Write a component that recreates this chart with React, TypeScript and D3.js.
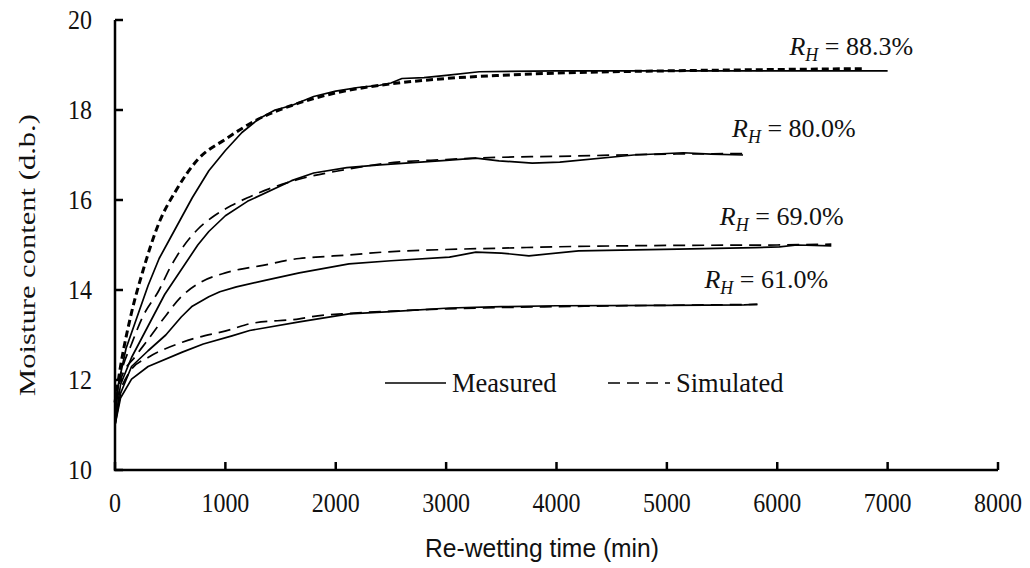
import React from 'react';
import * as d3 from 'd3';

// re-wetting curves, values (time in min, moisture d.b.)
const meas883T = [0, 30, 100, 200, 300, 400, 500, 600, 700, 850, 1000, 1150, 1300, 1450, 1600, 1800, 2000, 2200, 2400, 2500, 2600, 2800, 3000, 3300, 4000, 5000, 6000, 7000];
const meas883M = [11.0, 11.9, 12.7, 13.4, 14.1, 14.7, 15.15, 15.6, 16.05, 16.65, 17.1, 17.5, 17.8, 18.0, 18.1, 18.3, 18.42, 18.5, 18.55, 18.6, 18.7, 18.72, 18.77, 18.85, 18.87, 18.87, 18.87, 18.87];
const sim883T = [0, 50, 150, 250, 400, 550, 750, 1000, 1300, 1600, 2000, 2500, 3000, 3500, 4000, 5000, 6000, 6800];
const sim883M = [11.5, 12.3, 13.5, 14.4, 15.5, 16.2, 16.9, 17.35, 17.8, 18.1, 18.38, 18.58, 18.7, 18.77, 18.82, 18.87, 18.9, 18.92];

const meas800T = [0, 50, 150, 300, 450, 600, 750, 850, 1000, 1200, 1600, 1800, 2100, 2400, 3000, 3270, 3480, 3780, 4030, 4700, 5150, 5400, 5690];
const meas800M = [11.0, 11.9, 12.5, 13.2, 13.9, 14.45, 15.0, 15.3, 15.65, 15.97, 16.43, 16.6, 16.72, 16.78, 16.88, 16.93, 16.87, 16.82, 16.84, 17.0, 17.05, 17.02, 17.0];
const sim800T = [0, 60, 150, 250, 400, 500, 600, 750, 900, 1050, 1200, 1650, 2100, 2400, 3000, 3500, 4000, 5000, 5700];
const sim800M = [11.5, 12.2, 12.8, 13.4, 14.0, 14.5, 14.9, 15.35, 15.65, 15.87, 16.05, 16.45, 16.68, 16.8, 16.9, 16.95, 16.97, 17.02, 17.03];

const meas690T = [0, 50, 150, 300, 460, 600, 700, 850, 950, 1100, 1370, 1670, 2120, 2500, 3030, 3270, 3500, 3750, 4200, 5100, 5800, 6020, 6180, 6490];
const meas690M = [11.0, 11.7, 12.3, 12.65, 13.0, 13.4, 13.64, 13.85, 13.96, 14.07, 14.22, 14.38, 14.58, 14.65, 14.73, 14.84, 14.82, 14.76, 14.87, 14.91, 14.94, 14.96, 15.0, 14.98];
const sim690T = [0, 50, 190, 300, 460, 600, 760, 1000, 1130, 1300, 1670, 1820, 2120, 2420, 3000, 3500, 4000, 5000, 6000, 6490];
const sim690M = [11.5, 12.0, 12.54, 12.9, 13.43, 13.85, 14.15, 14.38, 14.46, 14.53, 14.7, 14.73, 14.78, 14.84, 14.9, 14.93, 14.96, 14.99, 15.0, 15.02];

const meas610T = [0, 50, 150, 300, 610, 800, 1060, 1220, 1670, 2120, 2500, 3030, 3500, 4000, 5000, 5700, 5820];
const meas610M = [11.0, 11.6, 12.02, 12.3, 12.62, 12.8, 12.98, 13.1, 13.29, 13.47, 13.52, 13.6, 13.63, 13.65, 13.66, 13.67, 13.68];
const sim610T = [0, 50, 150, 300, 610, 1060, 1220, 1670, 1820, 2120, 2500, 3000, 4000, 5000, 5820];
const sim610M = [11.5, 11.8, 12.24, 12.5, 12.84, 13.13, 13.25, 13.36, 13.42, 13.48, 13.53, 13.58, 13.63, 13.66, 13.68];

const rhLabels = ['88.3%', '80.0%', '69.0%', '61.0%'];
const labelT = [6110, 5590, 5480, 5340];
const labelM = [19.22, 17.4, 15.44, 14.04];

const xTicks = [0, 1000, 2000, 3000, 4000, 5000, 6000, 7000, 8000];
const yTicks = [10, 12, 14, 16, 18, 20];

const serif = '"Liberation Serif", "Times New Roman", serif';
const sans = '"Liberation Sans", Arial, sans-serif';

function zip(t: number[], m: number[]) {
  return t.map((v, i) => [v, m[i]] as [number, number]);
}

export default function App() {
  const width = 1030;
  const height = 568;
  const x = d3.scaleLinear().domain([0, 8000]).range([115, 998]);
  const y = d3.scaleLinear().domain([10, 20]).range([470, 20]);

  const lineLin = d3.line<[number, number]>().x(d => x(d[0])).y(d => y(d[1]));
  const lineSmooth = d3.line<[number, number]>().x(d => x(d[0])).y(d => y(d[1])).curve(d3.curveMonotoneX);

  const measured = [zip(meas883T, meas883M), zip(meas800T, meas800M), zip(meas690T, meas690M), zip(meas610T, meas610M)];
  const simulated = [zip(sim883T, sim883M), zip(sim800T, sim800M), zip(sim690T, sim690M), zip(sim610T, sim610M)];

  const x0 = x(0);
  const yb = y(10);

  return (
    <svg width={width} height={height} style={{position: 'absolute', left: 0, top: 0, background: '#fff'}}>
      {/* curves */}
      {measured.map((d, i) => (
        <path key={'m' + i} d={lineLin(d) || ''} fill="none" stroke="#000" strokeWidth={1.7} strokeLinejoin="round" />
      ))}
      {simulated.map((d, i) => (
        <path key={'s' + i} d={lineSmooth(d) || ''} fill="none" stroke="#000"
              strokeWidth={i === 0 ? 3 : 1.7}
              strokeDasharray={i === 0 ? '7,4' : '12,7'} />
      ))}

      {/* axes */}
      <path d={`M${x0},${y(20)}V${yb}H${x(8000)}`} fill="none" stroke="#000" strokeWidth={2.5} />
      {yTicks.map(v => (
        <g key={'y' + v}>
          <line x1={x0} x2={x0 + 8} y1={y(v)} y2={y(v)} stroke="#000" strokeWidth={2.5} />
          <text transform={`translate(${x0 - 23},${y(v) + 9}) scale(1,1.18)`} textAnchor="end"
                fontFamily={serif} fontSize={24} fill="#111">{v}</text>
        </g>
      ))}
      {xTicks.map(v => (
        <g key={'x' + v}>
          <line x1={x(v)} x2={x(v)} y1={yb} y2={yb - 8} stroke="#000" strokeWidth={2.5} />
          <text transform={`translate(${x(v)},${yb + 42}) scale(1,1.18)`} textAnchor="middle"
                fontFamily={serif} fontSize={24} fill="#111">{v}</text>
        </g>
      ))}

      <text transform="translate(542,557) scale(1.12,1.2)" textAnchor="middle" fontFamily={sans} fontSize={22} fill="#111">Re-wetting time (min)</text>
      <text transform="translate(35,255) rotate(-90) scale(1.33,1)" textAnchor="middle" fontFamily={serif} fontSize={23}
            fill="#111">Moisture content (d.b.)</text>

      {/* RH labels */}
      {rhLabels.map((s, i) => (
        <text key={'l' + i} x={x(labelT[i])} y={y(labelM[i])} fontFamily={serif} fontSize={26} fill="#111">
          <tspan fontStyle="italic">R</tspan>
          <tspan fontStyle="italic" fontSize={18} dy={6}>H</tspan>
          <tspan dy={-6}> = {s}</tspan>
        </text>
      ))}

      {/* legend */}
      <line x1={385} x2={446} y1={383} y2={383} stroke="#000" strokeWidth={1.7} />
      <text x={452} y={392} fontFamily={serif} fontSize={26.5} fill="#111">Measured</text>
      <line x1={608} x2={670} y1={383} y2={383} stroke="#000" strokeWidth={1.7} strokeDasharray="12,7" />
      <text x={676} y={392} fontFamily={serif} fontSize={26.5} fill="#111">Simulated</text>
    </svg>
  );
}
